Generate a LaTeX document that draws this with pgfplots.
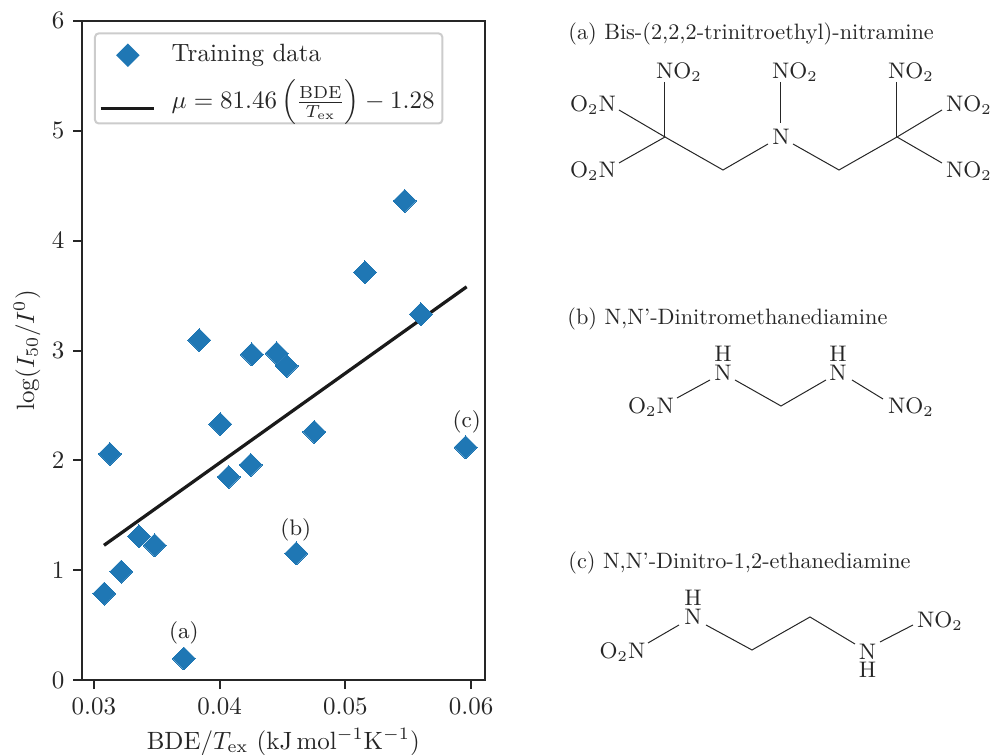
\documentclass[border=0pt]{standalone}
\usepackage{pgfplots}
\pgfplotsset{compat=1.18}
\definecolor{tblue}{HTML}{1F77B4}
\definecolor{axc}{HTML}{262626}
\definecolor{linec}{HTML}{1A1A1A}
\pgfplotstableread{
x y
0.03716 0.20
0.03082 0.79
0.03217 0.99
0.03358 1.31
0.03483 1.23
0.03127 2.06
0.04005 2.33
0.04072 1.85
0.04247 1.96
0.04753 2.26
0.04610 1.156
0.05957 2.12
0.03838 3.095
0.04255 2.965
0.04453 2.975
0.04533 2.86
0.05156 3.71
0.05472 4.36
0.05601 3.33
}\trainingdata
\begin{document}
\begin{tikzpicture}
\path[use as bounding box] (0,0) rectangle (396pt,302pt);
\begin{axis}[
  at={(32.8pt,29.8pt)}, anchor=south west, scale only axis,
  width=161pt, height=264pt,
  xmin=0.02905, xmax=0.06107, ymin=0, ymax=6,
  xtick={0.03,0.04,0.05,0.06}, ytick={0,1,2,3,4,5,6},
  scaled ticks=false,
  x tick label style={/pgf/number format/fixed,/pgf/number format/fixed zerofill,/pgf/number format/precision=2},
  tick align=outside, tick pos=left, major tick length=3.5pt,
  axis line style={axc,line width=0.8pt},
  tick style={axc,line width=0.8pt},
  every tick label/.append style={text=axc},
  tick label style={font=\normalsize},
  label style={text=axc},
  xlabel={BDE$/T_{\mathrm{ex}}$ ($\mathrm{kJ\,mol^{-1}K^{-1}}$)},
  ylabel={$\log(I_{50}/I^{0})$},
  xlabel style={at={(axis description cs:0.5,0)},anchor=center,yshift=-24.6pt},
  ylabel style={at={(axis description cs:0,0.5)},anchor=center,yshift=22pt},
  legend style={at={(axis description cs:0.0298,0.982)},anchor=north west,
    draw=black!20,line width=0.8pt,rounded corners=1.5pt,fill=white,
    inner xsep=1.6pt,inner ysep=3pt,text=axc,
    nodes={inner sep=1.5pt,anchor=west},
    row sep=2.6pt,column sep=5pt},
  legend cell align=left,
  clip=false,
]
\addplot[only marks,mark=square*,mark size=3.25pt,
  mark options={rotate=45,fill=tblue,draw=tblue,line width=0pt},
  legend image code/.code={\path[sharp corners,fill=tblue,draw=none] (10.9pt,-4.7pt) -- (15.6pt,0pt) -- (10.9pt,4.7pt) -- (6.2pt,0pt) -- cycle;}]
  table[x=x,y=y] {\trainingdata};
\addlegendentry{Training data}
\addplot[linec,line width=1.3pt,
  legend image code/.code={\draw[sharp corners,linec,line width=1.3pt] (0pt,-5.1pt) -- (21.3pt,-5.1pt);}]
  coordinates {(0.0308,1.229) (0.05965,3.579)};
\addlegendentry{$\mu = 81.46\left(\frac{\mathrm{BDE}}{T_{\mathrm{ex}}}\right) - 1.28\rule[-10.9pt]{0pt}{1pt}$}
\node[text=axc,font=\small] at (axis cs:0.03716,0.43) {(a)};
\node[text=axc,font=\small] at (axis cs:0.04605,1.37) {(b)};
\node[text=axc,font=\small] at (axis cs:0.05965,2.35) {(c)};
\end{axis}
\begin{scope}[x=0.4pt,y=-0.4pt,yshift=302pt,line width=0.4pt,draw=axc,
  every node/.style={text=axc,inner sep=0pt,font=\small}]
% (a)
\node[anchor=west,font=\normalsize,scale=0.89] at (568,34) {(a) Bis-(2,2,2-trinitroethyl)-nitramine};
\node at (679,72) {NO$_2$};
\node at (795,72) {NO$_2$};
\node at (911,72) {NO$_2$};
\node at (593,105) {O$_2$N};
\node at (593,171) {O$_2$N};
\node at (781,137) {N};
\node at (969,105) {NO$_2$};
\node at (969,171) {NO$_2$};
\draw (665,82) -- (665,137);
\draw (619,110) -- (665,137) -- (619,163);
\draw (665,137) -- (723,170) -- (768,144);
\draw (781,82) -- (781,123);
\draw (793,144) -- (839,170) -- (897,137);
\draw (897,82) -- (897,137);
\draw (942,110) -- (897,137) -- (942,163);
% (b)
\node[anchor=west,font=\normalsize,scale=0.89] at (567,318.5) {(b) N,N'-Dinitromethanediamine};
\node at (723,354) {H};
\node at (723,373) {N};
\node at (838,354) {H};
\node at (838,373) {N};
\node at (651,407) {O$_2$N};
\node at (911,407) {NO$_2$};
\draw (677,398) -- (710,380);
\draw (735,380) -- (781,406) -- (826,380);
\draw (852,380) -- (883,399);
% (c)
\node[anchor=west,font=\normalsize,scale=0.89] at (568,563) {(c) N,N'-Dinitro-1,2-ethanediamine};
\node at (693,598) {H};
\node at (693,617) {N};
\node at (622.5,652) {O$_2$N};
\node at (867.5,652) {N};
\node at (867.5,670) {H};
\node at (940,621) {NO$_2$};
\draw (648,643) -- (679,625);
\draw (706,625) -- (752,650) -- (810,617) -- (855,644);
\draw (880,642) -- (913,625);
\end{scope}
\end{tikzpicture}
\end{document}
